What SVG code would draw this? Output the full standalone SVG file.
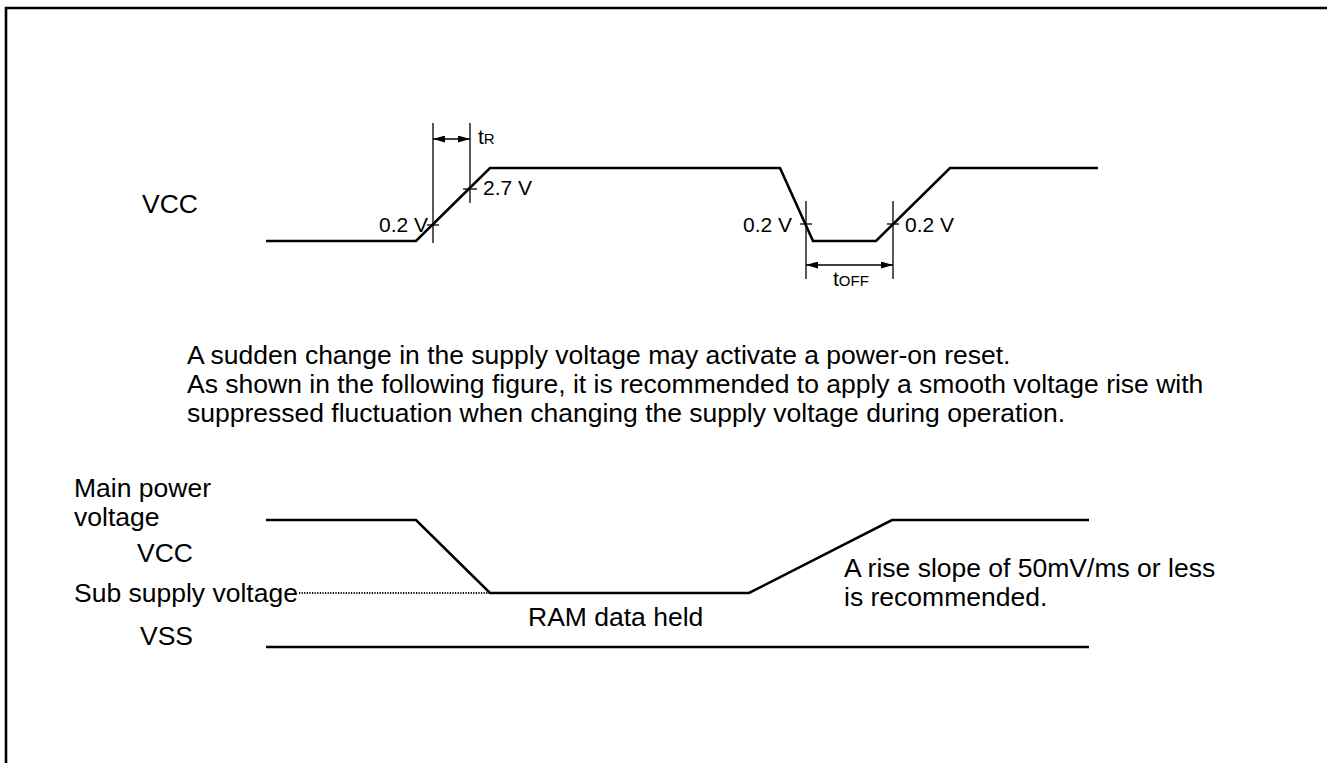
<svg xmlns="http://www.w3.org/2000/svg" width="1327" height="763" viewBox="0 0 1327 763">
<style>
text{font-family:"Liberation Sans",Arial,Helvetica,sans-serif;fill:#000}
.lbl{font-size:26.5px}
.val{font-size:21px}
.sub{font-size:15px}
.wave{fill:none;stroke:#000;stroke-width:2.6;stroke-linejoin:miter}
.dim{fill:none;stroke:#000;stroke-width:1.3}
.dot{fill:none;stroke:#000;stroke-width:1.8;stroke-dasharray:1.2 1.4}
</style>
<defs>
<marker id="ah" viewBox="0 0 12 7" refX="12" refY="3.5" markerWidth="12" markerHeight="7" markerUnits="userSpaceOnUse" orient="auto-start-reverse">
<path d="M0,0 L12,3.5 L0,7 Z" fill="#000"/>
</marker>
</defs>
<rect width="1327" height="763" fill="#fff"/>
<path d="M6,763 V8 H1327" fill="none" stroke="#000" stroke-width="2.6"/>
<g id="connectors">
<polyline class="wave" points="266,241 416,241 490,168 780,168 813,241 876,241 950,168 1098,168"/>
<line class="dim" x1="433" y1="123" x2="433" y2="243"/>
<line class="dim" x1="470" y1="123" x2="470" y2="203"/>
<line class="dim" x1="427" y1="225" x2="439" y2="225"/>
<line class="dim" x1="463" y1="189" x2="477" y2="189"/>
<line class="dim" x1="433" y1="139" x2="470" y2="139" marker-start="url(#ah)" marker-end="url(#ah)"/>
<line class="dim" x1="806" y1="201" x2="806" y2="279"/>
<line class="dim" x1="893" y1="201" x2="893" y2="279"/>
<line class="dim" x1="800" y1="224" x2="812" y2="224"/>
<line class="dim" x1="887" y1="224" x2="899" y2="224"/>
<line class="dim" x1="806" y1="265" x2="893" y2="265" marker-start="url(#ah)" marker-end="url(#ah)"/>
<polyline class="wave" points="266,520 416,520 490,593 749,593 892,520 1089,520"/>
<line class="dot" x1="299" y1="593" x2="490" y2="593"/>
<line class="wave" x1="266" y1="647" x2="1089" y2="647"/>
</g>
<g id="vcc-top">
<text class="lbl" x="142" y="213">VCC</text>
<text x="478" y="144"><tspan class="val">t</tspan><tspan class="sub">R</tspan></text>
<text class="val" x="483" y="195">2.7 V</text>
<text class="val" x="428" y="232" text-anchor="end">0.2 V</text>
<text class="val" x="792" y="232" text-anchor="end">0.2 V</text>
<text class="val" x="905" y="232">0.2 V</text>
<text x="833" y="286"><tspan class="val">t</tspan><tspan class="sub">OFF</tspan></text>
</g>
<g id="note">
<text class="lbl" x="187" y="364">A sudden change in the supply voltage may activate a power-on reset.</text>
<text class="lbl" x="187" y="393">As shown in the following figure, it is recommended to apply a smooth voltage rise with</text>
<text class="lbl" x="187" y="422">suppressed fluctuation when changing the supply voltage during operation.</text>
</g>
<g id="bottom-labels">
<text class="lbl" x="74" y="497">Main power</text>
<text class="lbl" x="74" y="526">voltage</text>
<text class="lbl" x="137" y="562">VCC</text>
<text class="lbl" x="74" y="602">Sub supply voltage</text>
<text class="lbl" x="140" y="645">VSS</text>
<text class="lbl" x="528" y="626">RAM data held</text>
<text class="lbl" x="844" y="577">A rise slope of 50mV/ms or less</text>
<text class="lbl" x="844" y="606">is recommended.</text>
</g>
</svg>
